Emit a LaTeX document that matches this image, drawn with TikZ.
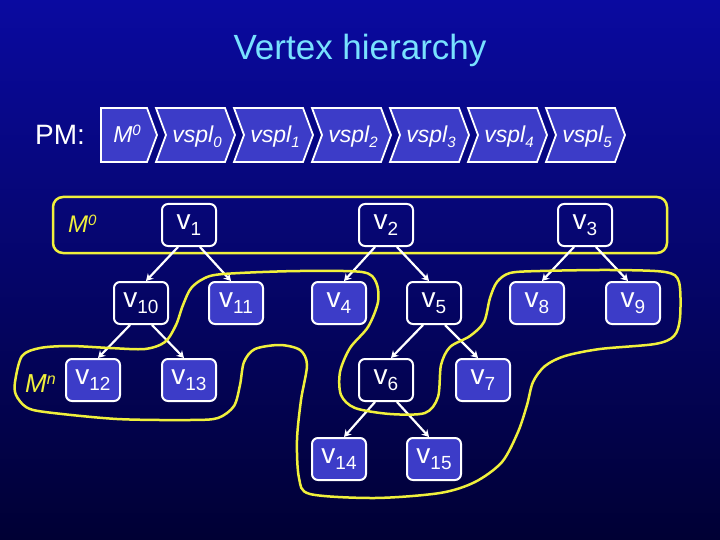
\documentclass[tikz,border=0pt]{standalone}
\usepackage{fontspec}
\setmainfont{Liberation Sans}
\usetikzlibrary{arrows.meta}

\definecolor{bgtop}{RGB}{10,10,160}
\definecolor{bgbot}{RGB}{0,0,52}
\definecolor{boxblue}{RGB}{60,60,200}
\definecolor{hiyellow}{RGB}{240,240,60}
\definecolor{titlecyan}{RGB}{120,225,255}

\newcommand{\vsub}[1]{v\raisebox{-6pt}{\fontsize{19}{19}\selectfont #1}}
\newcommand{\splsub}[1]{vspl\raisebox{-5pt}{\fontsize{15}{15}\selectfont #1}}

\tikzset{
  vert/.style={draw=white, line width=2pt, rounded corners=6pt, minimum width=54pt,
    minimum height=42pt, inner sep=0pt, text=white, font=\fontsize{28}{30}\selectfont},
  vertin/.style={vert, fill=boxblue},
  arr/.style={white, line width=2.2pt, -{Stealth[length=7pt,width=8pt]}},
  chev/.style={draw=white, fill=boxblue, line width=1.8pt},
  lab/.style={inner sep=0pt, text=white},
  cutline/.style={hiyellow, line width=2.5pt}
}

\begin{document}
\begin{tikzpicture}[x=1pt, y=-1pt]
  \shade[top color=bgtop, bottom color=bgbot] (0,0) rectangle (720,540);
  \useasboundingbox (0,0) rectangle (720,540);

  \node[lab, anchor=base, text=titlecyan, font=\fontsize{35}{40}\selectfont] (title) at (360,60) {Vertex hierarchy};
  \node[lab, anchor=base west, font=\fontsize{28}{30}\selectfont] (pm) at (35,145) {PM:};

  \draw[chev] (101,108) -- (147,108) -- (157,135) -- (147,162) -- (101,162) -- cycle;
  \node[lab, anchor=base, font=\fontsize{23}{25}\selectfont\itshape] (mbase) at (127,143)
    {M\raisebox{7pt}{\fontsize{15}{15}\selectfont 0}};
  \foreach \i in {0,...,5} {
    \draw[chev] (156+78*\i,108) -- ++(69,0) -- ++(10,27) -- ++(-10,27) -- ++(-69,0) -- ++(10,-27) -- cycle;
    \node[lab, anchor=base, font=\fontsize{23}{25}\selectfont\itshape] (spl\i) at (197+78*\i,143) {\splsub{\i}};
  }

  \draw[cutline, rounded corners=10pt] (53,197) rectangle (667,253);
  \node[lab, anchor=base west, text=hiyellow, font=\fontsize{24}{26}\selectfont\itshape] (mzero) at (68,233)
    {M\raisebox{7pt}{\fontsize{15}{15}\selectfont 0}};
  \node[lab, anchor=base west, text=hiyellow, font=\fontsize{26}{28}\selectfont\itshape] (mn) at (25,392)
    {M\raisebox{8pt}{\fontsize{16}{16}\selectfont n}};

  \node[vert] (v1) at (189,225) {\vsub{1}};
  \node[vert] (v2) at (386,225) {\vsub{2}};
  \node[vert] (v3) at (585,225) {\vsub{3}};
  \node[vert] (v10) at (141,303) {\vsub{10}};
  \node[vertin] (v11) at (236,303) {\vsub{11}};
  \node[vertin] (v4) at (339,303) {\vsub{4}};
  \node[vert] (v5) at (434,303) {\vsub{5}};
  \node[vertin] (v8) at (537,303) {\vsub{8}};
  \node[vertin] (v9) at (633,303) {\vsub{9}};
  \node[vertin] (v12) at (93,380) {\vsub{12}};
  \node[vertin] (v13) at (189,380) {\vsub{13}};
  \node[vert] (v6) at (386,380) {\vsub{6}};
  \node[vertin] (v7) at (483,380) {\vsub{7}};
  \node[vertin] (v14) at (339,459) {\vsub{14}};
  \node[vertin] (v15) at (434,459) {\vsub{15}};

  \foreach \p/\c/\a/\b in {v1/v10/-11/5, v1/v11/11/-5, v2/v4/-11/5, v2/v5/11/-5, v3/v8/-11/5, v3/v9/11/-5,
      v10/v12/-11/5, v10/v13/11/-5, v5/v6/-11/5, v5/v7/11/-5, v6/v14/-11/5, v6/v15/11/-5}
    \draw[arr] ([xshift=\a pt]\p.south) -- ([xshift=\b pt]\c.north);

  \draw[cutline] plot[smooth cycle] coordinates {
    (15,382) (22,356) (40,348) (70,346) (110,348) (145,349) (165,342) (176,325) (183,305)
    (192,287) (210,276) (240,273) (300,271) (362,272) (376,282) (378,302) (368,327) (350,348)
    (340,372) (341,395) (355,408) (390,414) (425,413) (438,397) (441,365) (450,347) (470,336)
    (484,322) (490,298) (497,282) (510,273) (540,271) (610,270) (665,272) (679,282) (680,318)
    (674,336) (655,344) (600,349) (565,356) (545,366) (533,382) (527,405) (518,432) (502,462)
    (475,482) (440,493) (375,498) (310,494) (299,478) (297,440) (301,400) (307,365) (300,350)
    (280,345) (255,349) (244,362) (240,385) (234,406) (218,418) (190,420) (117,419) (45,412)
    (26,407) (16,395)};
\end{tikzpicture}
\end{document}
